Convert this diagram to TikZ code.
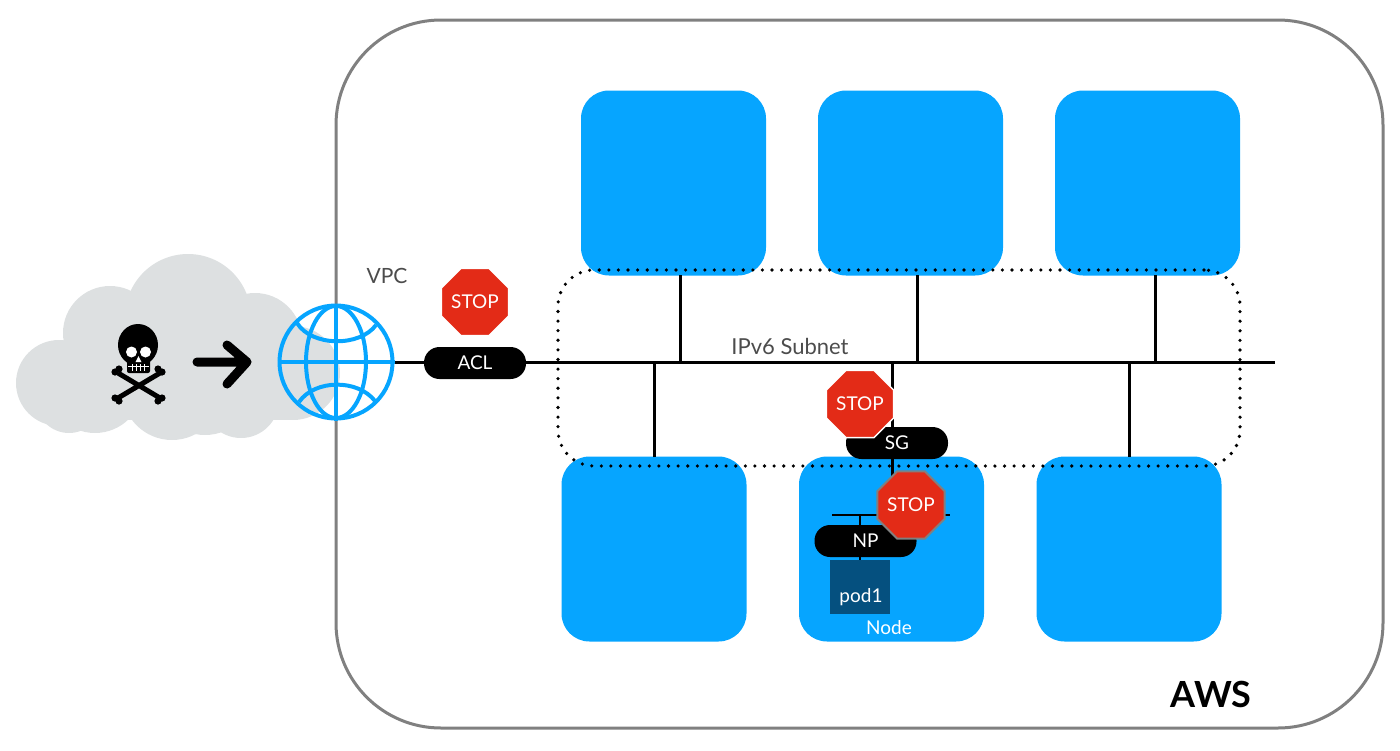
\documentclass[tikz,border=0pt]{standalone}
\usepackage{fontspec}
\setmainfont{Lato}
\usetikzlibrary{shapes.geometric}
\definecolor{awsblue}{HTML}{06A5FF}
\definecolor{cloudgray}{HTML}{DDE0E1}
\definecolor{stopred}{HTML}{E32B17}
\definecolor{poddark}{HTML}{05507F}
\tikzset{
  hostbox/.style={fill=awsblue,rounded corners=28pt,minimum width=185pt,minimum height=185pt,inner sep=0pt},
  pill/.style={fill=black,rounded corners=15.5pt,minimum width=102pt,minimum height=32pt,inner sep=0pt,text=white,font=\fontsize{19}{19}\selectfont},
  wire/.style={line width=3pt,black},
  thinwire/.style={line width=2pt,black},
  globeline/.style={line width=4pt,awsblue},
  stopouter/.style={regular polygon,regular polygon sides=8,fill=stopred,minimum size=62pt,inner sep=0pt},
  stopinner/.style={regular polygon,regular polygon sides=8,fill=stopred,draw=white,line width=1.4pt,minimum size=57pt,inner sep=0pt,text=white,font=\fontsize{19}{19}\selectfont},
  lbl/.style={inner sep=0pt,text=black!70,font=\fontsize{21}{21}\selectfont},
}
\begin{document}
\begin{tikzpicture}[x=1pt,y=-1pt]
\useasboundingbox (0,0) rectangle (1400,750);
% cloud
\fill[cloudgray] (188,317) circle (63);
\fill[cloudgray] (110,333) circle (47);
\fill[cloudgray] (59,383) circle (43);
\fill[cloudgray] (255,340) circle (47);
\fill[cloudgray] (293,373) circle (47);
\fill[cloudgray] (172,390) circle (50);
\fill[cloudgray] (241,400) circle (38);
\fill[cloudgray] (69,400) circle (33);
\fill[cloudgray] (95,385) circle (48);
\fill[cloudgray] (205,385) circle (50);
\fill[cloudgray] (90,340) rectangle (290,420);
% AWS outline
\node[draw=black!50,line width=3pt,rounded corners=105pt,minimum width=1047pt,minimum height=708pt,inner sep=0pt] (aws) at (859.5,374) {};
\node[inner sep=0pt,font=\fontsize{36}{36}\selectfont\bfseries,text=black] (awslbl) at (1211,694) {AWS};
% host boxes
\node[hostbox] (t1) at (673.5,183) {};
\node[hostbox] (t2) at (910.5,183) {};
\node[hostbox] (t3) at (1147.5,183) {};
\node[hostbox] (b1) at (654,549) {};
\node[hostbox] (b2) at (891.5,549) {};
\node[hostbox] (b3) at (1129,549) {};
% subnet dotted
\node[draw=black,line width=3.6pt,line cap=round,dash pattern=on 0pt off 9.6pt,rounded corners=36pt,minimum width=682pt,minimum height=196pt,inner sep=0pt] (subnet) at (899,368) {};
% coordinates
\coordinate (busend) at (1275,362);
\coordinate (j1) at (680,362); \coordinate (s1) at (680,275);
\coordinate (j2) at (917,362); \coordinate (s2) at (917,275);
\coordinate (j3) at (1155,362); \coordinate (s3) at (1155,275);
\coordinate (j4) at (654,362); \coordinate (s4) at (654,457);
\coordinate (j5) at (892,362); \coordinate (s5) at (892,515);
\coordinate (j6) at (1129,362); \coordinate (s6) at (1129,457);
\coordinate (npl) at (832,515); \coordinate (npr) at (950,515);
\coordinate (np1) at (860,515); \coordinate (np2) at (860,562);
\coordinate (globeE) at (393,362);
% wires
\draw[wire] (globeE) -- (busend);
\draw[wire] (s1) -- (j1); \draw[wire] (s2) -- (j2); \draw[wire] (s3) -- (j3);
\draw[wire] (s4) -- (j4); \draw[wire] (s6) -- (j6);
\draw[wire] (j5) -- (s5);
\draw[thinwire] (npl) -- (npr);
\draw[thinwire] (np1) -- (np2);
% pod
\node[fill=poddark,minimum width=60pt,minimum height=54pt,inner sep=0pt] (pod) at (860,587) {};
\node[inner sep=0pt,text=white,font=\fontsize{19}{19}\selectfont] (podlbl) at (861,597) {pod1};
\node[inner sep=0pt,text=white,font=\fontsize{19}{19}\selectfont] (nodelbl) at (889,628) {Node};
% pills
\node[pill] (acl) at (475,363) {ACL};
\node[pill] (sg) at (897,443) {SG};
\node[pill] (np) at (865.5,541) {NP};
% stop signs
\node[stopouter] (st1o) at (475,302) {};
\node[stopinner] (st1) at (475,302) {STOP};
\node[stopouter] (st2o) at (860,404) {};
\node[stopinner] (st2) at (860,404) {STOP};
\node[stopouter,draw=stopred,line width=1pt] (st3o) at (911,505) {};
\node[stopinner,draw=black!50,line width=2pt] (st3) at (911,505) {STOP};
% labels
\node[lbl] (vpc) at (387,276) {VPC};
\node[lbl,font=\fontsize{22}{22}\selectfont] (ipv6) at (790,346) {IPv6 Subnet};
% arrow
\draw[line width=9pt,line cap=round,line join=round,black] (197,362) -- (247,362) (227,345) -- (247,362) -- (227,384);
% skull
\fill[black] (138,345) ellipse (20 and 21);
\fill[black,rounded corners=2pt] (127,358) rectangle (150,373);
\fill[white] (131.5,352) circle (5.5);
\fill[white] (145.5,352) circle (5.5);
\fill[white] (138.5,356) -- (135.5,362) -- (141.5,362) -- cycle;
\draw[white,line width=1pt] (128,366) -- (149,366) (132,364) -- (132,371) (136,364) -- (136,371) (140,364) -- (140,371) (144,364) -- (144,371);
\draw[black,line width=5pt] (118,373) -- (160,398) (160,373) -- (118,398);
\fill[black] (115,372) circle (3.6);
\fill[black] (119,369) circle (3.6);
\fill[black] (162,372) circle (3.6);
\fill[black] (158,369) circle (3.6);
\fill[black] (115,398) circle (3.6);
\fill[black] (119,401) circle (3.6);
\fill[black] (162,398) circle (3.6);
\fill[black] (158,401) circle (3.6);
% globe
\node[circle,draw=awsblue,line width=4pt,minimum size=113pt,inner sep=0pt] (globe) at (336,362) {};
\draw[globeline] (globe.north) -- (globe.south);
\draw[globeline] (globe.west) -- (globe.east);
\draw[globeline] (336,362) ellipse (30 and 56);
\draw[globeline] (297,323) .. controls (312,347) and (360,347) .. (376,325);
\draw[globeline] (299,402) .. controls (315,379) and (358,379) .. (375,401);
\end{tikzpicture}
\end{document}
